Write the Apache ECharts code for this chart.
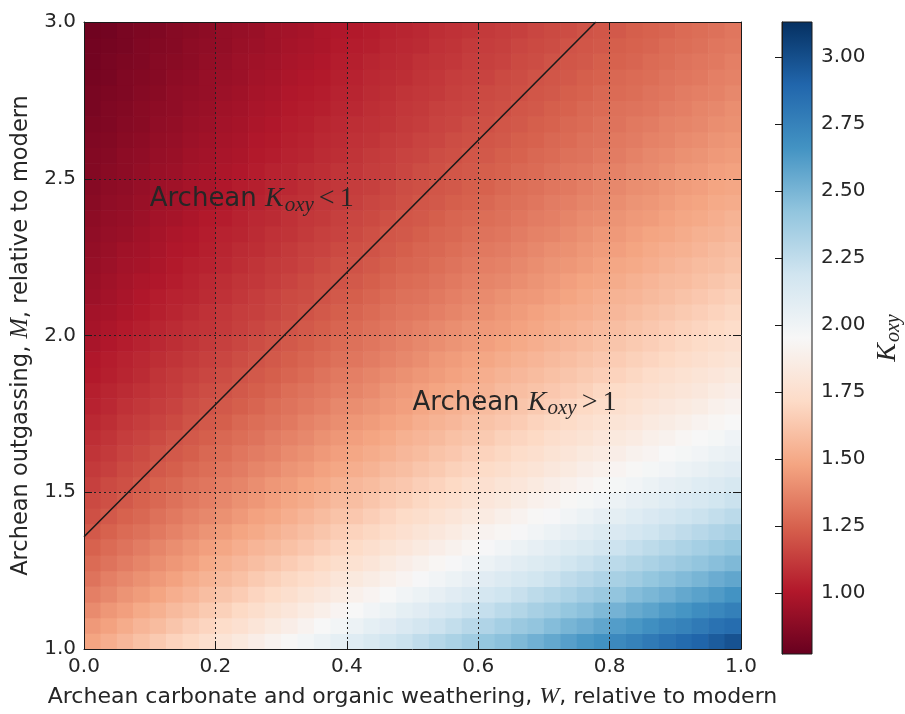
<!DOCTYPE html>
<html><head><meta charset="utf-8">
<script src="https://cdn.jsdelivr.net/npm/echarts@6/dist/echarts.min.js"></script>
<style>html,body{margin:0;padding:0;background:#fff}#c{width:905px;height:714px}</style>
</head><body><div id="c"></div>
<script>
// cell centres
const wCenters = [0.0125,0.0375,0.0625,0.0875,0.1125,0.1375,0.1625,0.1875,0.2125,0.2375,0.2625,0.2875,0.3125,0.3375,0.3625,0.3875,0.4125,0.4375,0.4625,0.4875,0.5125,0.5375,0.5625,0.5875,0.6125,0.6375,0.6625,0.6875,0.7125,0.7375,0.7625,0.7875,0.8125,0.8375,0.8625,0.8875,0.9125,0.9375,0.9625,0.9875];
const mCenters = [1.025,1.075,1.125,1.175,1.225,1.275,1.325,1.375,1.425,1.475,1.525,1.575,1.625,1.675,1.725,1.775,1.825,1.875,1.925,1.975,2.025,2.075,2.125,2.175,2.225,2.275,2.325,2.375,2.425,2.475,2.525,2.575,2.625,2.675,2.725,2.775,2.825,2.875,2.925,2.975];
// K_oxy values, one row per M centre (bottom to top), one column per W centre
const kRows = [
 [1.48,1.52,1.56,1.60,1.64,1.68,1.71,1.75,1.79,1.83,1.87,1.91,1.94,1.98,2.02,2.06,2.10,2.14,2.18,2.21,2.25,2.29,2.33,2.37,2.41,2.44,2.48,2.52,2.56,2.60,2.64,2.67,2.71,2.75,2.79,2.83,2.87,2.90,2.94,2.98],
 [1.44,1.47,1.51,1.55,1.58,1.62,1.66,1.69,1.73,1.76,1.80,1.84,1.87,1.91,1.95,1.98,2.02,2.06,2.09,2.13,2.17,2.20,2.24,2.28,2.31,2.35,2.39,2.42,2.46,2.50,2.53,2.57,2.61,2.64,2.68,2.72,2.75,2.79,2.83,2.86],
 [1.39,1.43,1.46,1.50,1.53,1.57,1.60,1.64,1.67,1.71,1.74,1.78,1.81,1.85,1.88,1.92,1.95,1.99,2.02,2.06,2.09,2.13,2.16,2.20,2.23,2.27,2.30,2.34,2.37,2.41,2.44,2.48,2.51,2.55,2.58,2.62,2.65,2.69,2.72,2.76],
 [1.35,1.38,1.42,1.45,1.48,1.52,1.55,1.59,1.62,1.65,1.69,1.72,1.75,1.79,1.82,1.85,1.89,1.92,1.95,1.99,2.02,2.05,2.09,2.12,2.16,2.19,2.22,2.26,2.29,2.32,2.36,2.39,2.42,2.46,2.49,2.52,2.56,2.59,2.62,2.66],
 [1.31,1.35,1.38,1.41,1.44,1.47,1.51,1.54,1.57,1.60,1.64,1.67,1.70,1.73,1.76,1.80,1.83,1.86,1.89,1.92,1.96,1.99,2.02,2.05,2.09,2.12,2.15,2.18,2.21,2.25,2.28,2.31,2.34,2.37,2.41,2.44,2.47,2.50,2.54,2.57],
 [1.28,1.31,1.34,1.37,1.40,1.43,1.46,1.50,1.53,1.56,1.59,1.62,1.65,1.68,1.71,1.74,1.77,1.80,1.84,1.87,1.90,1.93,1.96,1.99,2.02,2.05,2.08,2.11,2.14,2.18,2.21,2.24,2.27,2.30,2.33,2.36,2.39,2.42,2.45,2.48],
 [1.25,1.28,1.31,1.34,1.37,1.40,1.43,1.46,1.49,1.52,1.55,1.57,1.60,1.63,1.66,1.69,1.72,1.75,1.78,1.81,1.84,1.87,1.90,1.93,1.96,1.99,2.02,2.05,2.08,2.11,2.14,2.17,2.20,2.23,2.26,2.29,2.32,2.35,2.38,2.41],
 [1.22,1.25,1.28,1.30,1.33,1.36,1.39,1.42,1.45,1.48,1.50,1.53,1.56,1.59,1.62,1.65,1.68,1.70,1.73,1.76,1.79,1.82,1.85,1.88,1.91,1.93,1.96,1.99,2.02,2.05,2.08,2.11,2.13,2.16,2.19,2.22,2.25,2.28,2.31,2.34],
 [1.19,1.22,1.25,1.27,1.30,1.33,1.36,1.38,1.41,1.44,1.47,1.49,1.52,1.55,1.58,1.61,1.63,1.66,1.69,1.72,1.74,1.77,1.80,1.83,1.85,1.88,1.91,1.94,1.96,1.99,2.02,2.05,2.07,2.10,2.13,2.16,2.19,2.21,2.24,2.27],
 [1.17,1.19,1.22,1.25,1.27,1.30,1.33,1.35,1.38,1.41,1.43,1.46,1.49,1.51,1.54,1.57,1.59,1.62,1.65,1.67,1.70,1.73,1.75,1.78,1.81,1.83,1.86,1.89,1.91,1.94,1.97,1.99,2.02,2.05,2.07,2.10,2.13,2.15,2.18,2.21],
 [1.14,1.17,1.19,1.22,1.25,1.27,1.30,1.32,1.35,1.37,1.40,1.43,1.45,1.48,1.50,1.53,1.56,1.58,1.61,1.63,1.66,1.68,1.71,1.74,1.76,1.79,1.81,1.84,1.87,1.89,1.92,1.94,1.97,1.99,2.02,2.05,2.07,2.10,2.12,2.15],
 [1.12,1.14,1.17,1.19,1.22,1.24,1.27,1.29,1.32,1.34,1.37,1.39,1.42,1.44,1.47,1.49,1.52,1.54,1.57,1.59,1.62,1.64,1.67,1.69,1.72,1.74,1.77,1.79,1.82,1.84,1.87,1.89,1.92,1.94,1.97,1.99,2.02,2.04,2.07,2.09],
 [1.10,1.12,1.15,1.17,1.20,1.22,1.24,1.27,1.29,1.32,1.34,1.36,1.39,1.41,1.44,1.46,1.49,1.51,1.53,1.56,1.58,1.61,1.63,1.66,1.68,1.70,1.73,1.75,1.78,1.80,1.83,1.85,1.87,1.90,1.92,1.95,1.97,1.99,2.02,2.04],
 [1.08,1.10,1.13,1.15,1.17,1.20,1.22,1.24,1.27,1.29,1.31,1.34,1.36,1.38,1.41,1.43,1.46,1.48,1.50,1.53,1.55,1.57,1.60,1.62,1.64,1.67,1.69,1.71,1.74,1.76,1.78,1.81,1.83,1.85,1.88,1.90,1.93,1.95,1.97,2.00],
 [1.06,1.08,1.11,1.13,1.15,1.17,1.20,1.22,1.24,1.27,1.29,1.31,1.33,1.36,1.38,1.40,1.43,1.45,1.47,1.49,1.52,1.54,1.56,1.59,1.61,1.63,1.65,1.68,1.70,1.72,1.75,1.77,1.79,1.81,1.84,1.86,1.88,1.91,1.93,1.95],
 [1.04,1.06,1.09,1.11,1.13,1.15,1.18,1.20,1.22,1.24,1.26,1.29,1.31,1.33,1.35,1.38,1.40,1.42,1.44,1.46,1.49,1.51,1.53,1.55,1.58,1.60,1.62,1.64,1.66,1.69,1.71,1.73,1.75,1.77,1.80,1.82,1.84,1.86,1.89,1.91],
 [1.03,1.05,1.07,1.09,1.11,1.13,1.16,1.18,1.20,1.22,1.24,1.26,1.29,1.31,1.33,1.35,1.37,1.39,1.42,1.44,1.46,1.48,1.50,1.52,1.54,1.57,1.59,1.61,1.63,1.65,1.67,1.70,1.72,1.74,1.76,1.78,1.80,1.82,1.85,1.87],
 [1.01,1.03,1.05,1.07,1.10,1.12,1.14,1.16,1.18,1.20,1.22,1.24,1.26,1.28,1.31,1.33,1.35,1.37,1.39,1.41,1.43,1.45,1.47,1.49,1.52,1.54,1.56,1.58,1.60,1.62,1.64,1.66,1.68,1.70,1.73,1.75,1.77,1.79,1.81,1.83],
 [1.00,1.02,1.04,1.06,1.08,1.10,1.12,1.14,1.16,1.18,1.20,1.22,1.24,1.26,1.28,1.30,1.32,1.34,1.36,1.38,1.40,1.43,1.45,1.47,1.49,1.51,1.53,1.55,1.57,1.59,1.61,1.63,1.65,1.67,1.69,1.71,1.73,1.75,1.77,1.79],
 [0.98,1.00,1.02,1.04,1.06,1.08,1.10,1.12,1.14,1.16,1.18,1.20,1.22,1.24,1.26,1.28,1.30,1.32,1.34,1.36,1.38,1.40,1.42,1.44,1.46,1.48,1.50,1.52,1.54,1.56,1.58,1.60,1.62,1.64,1.66,1.68,1.70,1.72,1.74,1.76],
 [0.97,0.99,1.01,1.03,1.05,1.07,1.09,1.10,1.12,1.14,1.16,1.18,1.20,1.22,1.24,1.26,1.28,1.30,1.32,1.34,1.36,1.38,1.40,1.42,1.44,1.45,1.47,1.49,1.51,1.53,1.55,1.57,1.59,1.61,1.63,1.65,1.67,1.69,1.71,1.73],
 [0.96,0.97,0.99,1.01,1.03,1.05,1.07,1.09,1.11,1.13,1.14,1.16,1.18,1.20,1.22,1.24,1.26,1.28,1.30,1.32,1.33,1.35,1.37,1.39,1.41,1.43,1.45,1.47,1.49,1.51,1.52,1.54,1.56,1.58,1.60,1.62,1.64,1.66,1.68,1.70],
 [0.94,0.96,0.98,1.00,1.02,1.04,1.05,1.07,1.09,1.11,1.13,1.15,1.17,1.18,1.20,1.22,1.24,1.26,1.28,1.30,1.31,1.33,1.35,1.37,1.39,1.41,1.43,1.44,1.46,1.48,1.50,1.52,1.54,1.55,1.57,1.59,1.61,1.63,1.65,1.67],
 [0.93,0.95,0.97,0.99,1.00,1.02,1.04,1.06,1.08,1.10,1.11,1.13,1.15,1.17,1.19,1.20,1.22,1.24,1.26,1.28,1.29,1.31,1.33,1.35,1.37,1.38,1.40,1.42,1.44,1.46,1.48,1.49,1.51,1.53,1.55,1.57,1.58,1.60,1.62,1.64],
 [0.92,0.94,0.96,0.97,0.99,1.01,1.03,1.04,1.06,1.08,1.10,1.12,1.13,1.15,1.17,1.19,1.20,1.22,1.24,1.26,1.27,1.29,1.31,1.33,1.35,1.36,1.38,1.40,1.42,1.43,1.45,1.47,1.49,1.50,1.52,1.54,1.56,1.58,1.59,1.61],
 [0.91,0.93,0.95,0.96,0.98,1.00,1.01,1.03,1.05,1.07,1.08,1.10,1.12,1.14,1.15,1.17,1.19,1.20,1.22,1.24,1.26,1.27,1.29,1.31,1.33,1.34,1.36,1.38,1.40,1.41,1.43,1.45,1.46,1.48,1.50,1.52,1.53,1.55,1.57,1.59],
 [0.90,0.92,0.93,0.95,0.97,0.99,1.00,1.02,1.04,1.05,1.07,1.09,1.10,1.12,1.14,1.15,1.17,1.19,1.21,1.22,1.24,1.26,1.27,1.29,1.31,1.32,1.34,1.36,1.37,1.39,1.41,1.43,1.44,1.46,1.48,1.49,1.51,1.53,1.54,1.56],
 [0.89,0.91,0.92,0.94,0.96,0.97,0.99,1.01,1.02,1.04,1.06,1.07,1.09,1.11,1.12,1.14,1.16,1.17,1.19,1.21,1.22,1.24,1.26,1.27,1.29,1.30,1.32,1.34,1.35,1.37,1.39,1.40,1.42,1.44,1.45,1.47,1.49,1.50,1.52,1.54],
 [0.88,0.90,0.91,0.93,0.95,0.96,0.98,0.99,1.01,1.03,1.04,1.06,1.08,1.09,1.11,1.12,1.14,1.16,1.17,1.19,1.21,1.22,1.24,1.25,1.27,1.29,1.30,1.32,1.34,1.35,1.37,1.38,1.40,1.42,1.43,1.45,1.47,1.48,1.50,1.51],
 [0.87,0.89,0.90,0.92,0.94,0.95,0.97,0.98,1.00,1.02,1.03,1.05,1.06,1.08,1.10,1.11,1.13,1.14,1.16,1.18,1.19,1.21,1.22,1.24,1.25,1.27,1.29,1.30,1.32,1.33,1.35,1.37,1.38,1.40,1.41,1.43,1.45,1.46,1.48,1.49],
 [0.86,0.88,0.89,0.91,0.93,0.94,0.96,0.97,0.99,1.00,1.02,1.04,1.05,1.07,1.08,1.10,1.11,1.13,1.14,1.16,1.18,1.19,1.21,1.22,1.24,1.25,1.27,1.28,1.30,1.32,1.33,1.35,1.36,1.38,1.39,1.41,1.43,1.44,1.46,1.47],
 [0.86,0.87,0.89,0.90,0.92,0.93,0.95,0.96,0.98,0.99,1.01,1.02,1.04,1.05,1.07,1.08,1.10,1.12,1.13,1.15,1.16,1.18,1.19,1.21,1.22,1.24,1.25,1.27,1.28,1.30,1.31,1.33,1.34,1.36,1.38,1.39,1.41,1.42,1.44,1.45],
 [0.85,0.86,0.88,0.89,0.91,0.92,0.94,0.95,0.97,0.98,1.00,1.01,1.03,1.04,1.06,1.07,1.09,1.10,1.12,1.13,1.15,1.16,1.18,1.19,1.21,1.22,1.24,1.25,1.27,1.28,1.30,1.31,1.33,1.34,1.36,1.37,1.39,1.40,1.42,1.43],
 [0.84,0.85,0.87,0.88,0.90,0.91,0.93,0.94,0.96,0.97,0.99,1.00,1.02,1.03,1.05,1.06,1.08,1.09,1.10,1.12,1.13,1.15,1.16,1.18,1.19,1.21,1.22,1.24,1.25,1.27,1.28,1.30,1.31,1.33,1.34,1.36,1.37,1.38,1.40,1.41],
 [0.83,0.85,0.86,0.88,0.89,0.90,0.92,0.93,0.95,0.96,0.98,0.99,1.01,1.02,1.03,1.05,1.06,1.08,1.09,1.11,1.12,1.14,1.15,1.16,1.18,1.19,1.21,1.22,1.24,1.25,1.27,1.28,1.30,1.31,1.32,1.34,1.35,1.37,1.38,1.40],
 [0.83,0.84,0.85,0.87,0.88,0.90,0.91,0.92,0.94,0.95,0.97,0.98,1.00,1.01,1.02,1.04,1.05,1.07,1.08,1.10,1.11,1.12,1.14,1.15,1.17,1.18,1.19,1.21,1.22,1.24,1.25,1.27,1.28,1.29,1.31,1.32,1.34,1.35,1.36,1.38],
 [0.82,0.83,0.85,0.86,0.87,0.89,0.90,0.92,0.93,0.94,0.96,0.97,0.99,1.00,1.01,1.03,1.04,1.06,1.07,1.08,1.10,1.11,1.13,1.14,1.15,1.17,1.18,1.20,1.21,1.22,1.24,1.25,1.27,1.28,1.29,1.31,1.32,1.33,1.35,1.36],
 [0.81,0.83,0.84,0.85,0.87,0.88,0.89,0.91,0.92,0.94,0.95,0.96,0.98,0.99,1.00,1.02,1.03,1.05,1.06,1.07,1.09,1.10,1.11,1.13,1.14,1.15,1.17,1.18,1.20,1.21,1.22,1.24,1.25,1.26,1.28,1.29,1.31,1.32,1.33,1.35],
 [0.81,0.82,0.83,0.85,0.86,0.87,0.89,0.90,0.91,0.93,0.94,0.95,0.97,0.98,0.99,1.01,1.02,1.03,1.05,1.06,1.07,1.09,1.10,1.12,1.13,1.14,1.16,1.17,1.18,1.20,1.21,1.22,1.24,1.25,1.26,1.28,1.29,1.30,1.32,1.33],
 [0.80,0.81,0.83,0.84,0.85,0.87,0.88,0.89,0.91,0.92,0.93,0.95,0.96,0.97,0.99,1.00,1.01,1.02,1.04,1.05,1.06,1.08,1.09,1.10,1.12,1.13,1.14,1.16,1.17,1.18,1.20,1.21,1.22,1.24,1.25,1.26,1.28,1.29,1.30,1.32]
];
const xTicks = [0.0,0.2,0.4,0.6,0.8,1.0];
const yTicks = [1.0,1.5,2.0,2.5,3.0];
const cbTicks = [1.00,1.25,1.50,1.75,2.00,2.25,2.50,2.75,3.00];
const kMin = 0.772, kMax = 3.13;
const rdbuColors = ['#67001f','#b2182b','#d6604d','#f4a582','#fddbc7','#f7f7f7','#d1e5f0','#92c5de','#4393c3','#2166ac','#053061'];
const lineW = [0.0, 0.779];
const lineM = [1.358, 3.0];
const annW = [0.1, 0.5];
const annM = [2.4, 1.75];
const annRel = ['<', '>'];

const halfW = (wCenters[1]-wCenters[0])/2;
const halfM = (mCenters[1]-mCenters[0])/2;
const cells = [];
kRows.forEach((row,j)=>row.forEach((k,i)=>cells.push([wCenters[i], mCenters[j], k])));

const TXT = '#262626', AX = '#1a1a1a';
const FONT = 'DejaVu Sans';
const SERIF_I = {fontFamily:'Liberation Serif', fontStyle:'italic'};

const chart = echarts.init(document.getElementById('c'), null, {renderer:'canvas'});
const axCommon = {
  axisLine:{show:true, onZero:false, lineStyle:{color:AX, width:1}},
  axisTick:{show:true, inside:true, length:8, lineStyle:{color:AX, width:1}},
  z: 5
};
const gridLine = {show:true, lineStyle:{color:'#222', width:1, type:[2,3]}};
const annRich = {
  a:{fontFamily:FONT, fontSize:26, fill:TXT, lineHeight:34},
  k:Object.assign({fontSize:28, fill:TXT, lineHeight:34}, SERIF_I),
  s:Object.assign({fontSize:21, fill:TXT, lineHeight:34, padding:[12,0,0,1]}, SERIF_I),
  r:{fontFamily:'Liberation Serif', fontSize:28, fill:TXT, lineHeight:34, padding:[0,5,0,5]},
  o:{fontFamily:'Liberation Serif', fontSize:28, fill:TXT, lineHeight:34}
};
chart.setOption({
  animation:false,
  backgroundColor:'#fff',
  grid:[
    {left:84, top:22, width:657, height:632},
    {left:782, top:22, width:31, height:632, show:true, borderColor:AX, borderWidth:1,
     backgroundColor:{type:'linear', x:0, y:1, x2:0, y2:0,
       colorStops: rdbuColors.map((c,i)=>({offset:i/(rdbuColors.length-1), color:c}))}}
  ],
  visualMap:{show:false, type:'continuous', seriesIndex:0, dimension:2, min:kMin, max:kMax,
    inRange:{color:rdbuColors}},
  xAxis:[
    Object.assign({gridIndex:0, type:'value', min:xTicks[0], max:xTicks[xTicks.length-1], interval:0.2, position:'bottom',
      axisLabel:{formatter:v=>v.toFixed(1), fontSize:20, color:TXT, fontFamily:FONT, margin:8},
      splitLine:gridLine,
      name:'{t|Archean carbonate and organic weathering, }{i|W}{t|, relative to modern}',
      nameLocation:'middle', nameGap:34,
      nameTextStyle:{rich:{t:{fontSize:22, fontFamily:FONT, color:TXT, lineHeight:28},
        i:Object.assign({fontSize:24, color:TXT, lineHeight:28}, SERIF_I)}}
    }, axCommon),
    Object.assign({gridIndex:0, type:'value', min:xTicks[0], max:xTicks[xTicks.length-1], interval:0.2, position:'top',
      axisLabel:{show:false}, splitLine:{show:false}}, axCommon),
    {gridIndex:1, type:'value', min:0, max:1, show:false}
  ],
  yAxis:[
    Object.assign({gridIndex:0, type:'value', min:yTicks[0], max:yTicks[yTicks.length-1], interval:0.5, position:'left',
      axisLabel:{formatter:v=>v.toFixed(1), fontSize:20, color:TXT, fontFamily:FONT, margin:8},
      splitLine:gridLine,
      name:'{t|Archean outgassing, }{i|M}{t|, relative to modern}',
      nameLocation:'middle', nameGap:47,
      nameTextStyle:{rich:{t:{fontSize:22.5, fontFamily:FONT, color:TXT, lineHeight:29},
        i:Object.assign({fontSize:24.5, color:TXT, lineHeight:29}, SERIF_I)}}
    }, axCommon),
    Object.assign({gridIndex:0, type:'value', min:yTicks[0], max:yTicks[yTicks.length-1], interval:0.5, position:'right',
      axisLabel:{show:false}, splitLine:{show:false}}, axCommon),
    {gridIndex:1, type:'value', min:kMin, max:kMax, position:'right', z:5,
      axisLine:{show:true, lineStyle:{color:AX, width:1}},
      axisTick:{show:true, inside:true, length:7, customValues:cbTicks, lineStyle:{color:AX, width:1}},
      axisLabel:{show:true, customValues:cbTicks, formatter:v=>Number(v).toFixed(2), fontSize:20, color:TXT, fontFamily:FONT, margin:9},
      splitLine:{show:false},
      name:'{k|K}{s|oxy}', nameLocation:'middle', nameGap:60,
      nameTextStyle:{rich:{k:Object.assign({fontSize:28, color:TXT, lineHeight:32}, SERIF_I),
        s:Object.assign({fontSize:20, color:TXT, lineHeight:32, padding:[12,0,0,1]}, SERIF_I)}}
    }
  ],
  series:[
    {type:'custom', xAxisIndex:0, yAxisIndex:0, clip:true, z:1,
      data:cells, encode:{x:0, y:1},
      renderItem:(params, api)=>{
        const w=api.value(0), m=api.value(1);
        const p1=api.coord([w-halfW, m+halfM]);
        const p2=api.coord([w+halfW, m-halfM]);
        return {type:'rect', shape:{x:p1[0], y:p1[1], width:p2[0]-p1[0]+0.6, height:p2[1]-p1[1]+0.6},
          style:{fill:api.visual('color')}};
      }},
    {type:'line', xAxisIndex:0, yAxisIndex:0, z:4, symbol:'none', silent:true,
      data:lineW.map((w,i)=>[w, lineM[i]]),
      lineStyle:{color:'#1a1a1a', width:1.6}},
    {type:'custom', xAxisIndex:0, yAxisIndex:0, z:6, silent:true, clip:false,
      data:annW.map((w,i)=>[w, annM[i], i]), encode:{x:0, y:1},
      renderItem:(params, api)=>{
        const p = api.coord([api.value(0), api.value(1)]);
        const idx = api.value(2);
        return {type:'text', x:p[0], y:p[1]+6,
          style:{text:'{a|Archean }{k|K}{s|oxy}{r|'+annRel[idx]+'}{o|1}', rich:annRich,
            align:'left', verticalAlign:'bottom', fill:TXT}};
      }}
  ]
});
</script></body></html>
